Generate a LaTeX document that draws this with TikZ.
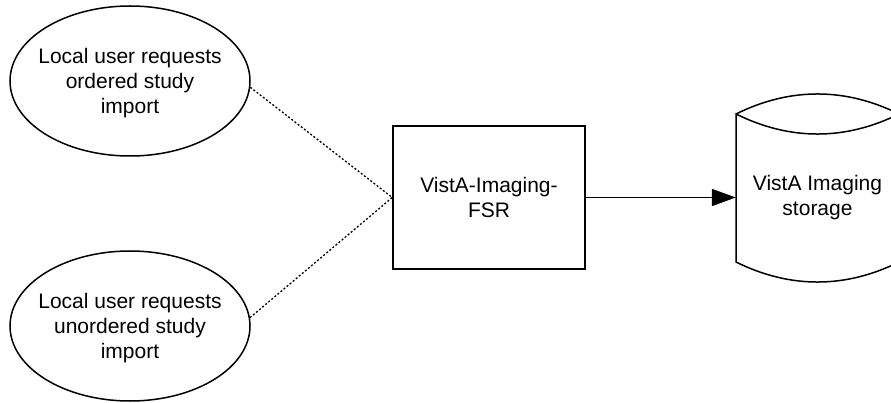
\documentclass[tikz,border=0pt]{standalone}
\usepackage{fontspec}
\setmainfont{Liberation Sans}
\usetikzlibrary{arrows.meta,shapes.geometric}
\begin{document}
\begin{tikzpicture}[x=1pt,y=-1pt,
  lbl/.style={font=\fontsize{21}{25}\selectfont, align=center},
  usecase/.style={ellipse, draw, line width=1.5pt, minimum width=240pt, minimum height=150pt, inner xsep=-20pt, inner ysep=0pt, text depth=-11pt, lbl},
  procbox/.style={rectangle, draw, line width=1.5pt, minimum width=192pt, minimum height=143pt, inner sep=0pt, lbl},
  dotline/.style={line width=1.3pt, dash pattern=on 2pt off 2pt},
  flow/.style={line width=1.8pt, -{Triangle[length=24pt,width=17pt]}},
  shapeline/.style={line width=1.5pt}]
\clip (0,0) rectangle (891,403);
\useasboundingbox (0,0) rectangle (891,403);
\node[usecase] (e1) at (130,81) {Local user requests\\ordered study\\import};
\node[usecase] (e2) at (130,326) {Local user requests\\unordered study\\import};
\node[procbox] (fsr) at (489,197.5) {VistA-Imaging-\\FSR};
\node[lbl, minimum width=163pt, minimum height=127pt, inner sep=0pt] (cyl) at (817.5,197.5) {VistA Imaging\\storage};
\draw[shapeline] (736,114) .. controls (790,87.3) and (845,87.3) .. (899,114)
  .. controls (845,140.7) and (790,140.7) .. (736,114) -- (736,262)
  .. controls (790,288.7) and (845,288.7) .. (899,262) -- (899,114);
\draw[dotline] (e1.-3) -- (fsr.west);
\draw[dotline] (e2.4) -- (fsr.west);
\draw[flow] (fsr.east) -- (cyl.west);
\end{tikzpicture}
\end{document}
